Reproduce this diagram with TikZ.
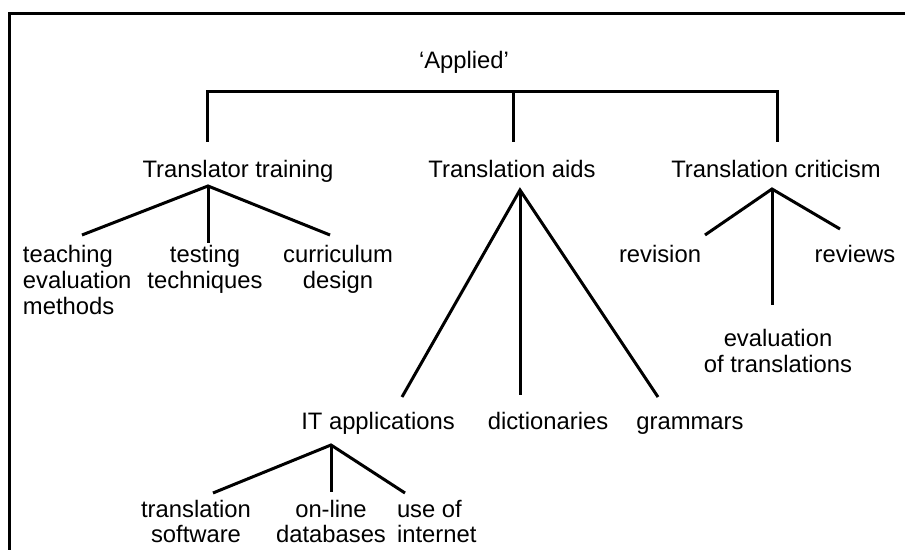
\documentclass[tikz,border=0pt]{standalone}
\usepackage{fontspec}
\setmainfont{Liberation Sans}
\begin{document}
\begin{tikzpicture}[x=0.5pt,y=-0.5pt,
  lbl/.style={inner sep=0pt,outer sep=0pt,anchor=base,align=center,font=\fontsize{11.9}{13}\selectfont},
  lbll/.style={lbl,anchor=base west,align=left},
  link/.style={line width=1.5pt,line cap=butt}]
\useasboundingbox (0,0) rectangle (905,550);
% frame
\draw[link] (9,550) -- (9,14) -- (905,14);
% labels (multi-line nodes are placed by the baseline of their last line)
\node[lbl] (applied) at (464,69) {`Applied'};
\node[lbl] (tt) at (238,178) {Translator training};
\node[lbl] (ta) at (512,178) {Translation aids};
\node[lbl] (tc) at (776,178) {Translation criticism};
\node[lbll] (teach) at (23,315) {teaching\\evaluation\\methods};
\node[lbl] (test) at (205,289) {testing\\techniques};
\node[lbl] (curr) at (338,289) {curriculum\\design};
\node[lbl] (rev) at (660,263) {revision};
\node[lbl] (revs) at (855,263) {reviews};
\node[lbl] (eval) at (778,373) {evaluation\\of translations};
\node[lbl] (it) at (378,430) {IT applications};
\node[lbl] (dict) at (548,430) {dictionaries};
\node[lbl] (gram) at (690,430) {grammars};
\node[lbl] (soft) at (196,543) {translation\\software};
\node[lbl] (onl) at (331,543) {on-line\\databases};
\node[lbll] (inet) at (397,543) {use of\\internet};
% coordinates for connector ends
\coordinate (barL) at (207,92);
\coordinate (barM) at (513,92);
\coordinate (barR) at (777,92);
\coordinate (ttTop) at (207,142);
\coordinate (taTop) at (513,142);
\coordinate (tcTop) at (777,142);
\coordinate (ttA) at (208,186);
\coordinate (teachE) at (82,235);
\coordinate (testE) at (208,243);
\coordinate (currE) at (330,235);
\coordinate (taA) at (520,190);
\coordinate (itE) at (402,397);
\coordinate (dictE) at (520,395);
\coordinate (gramE) at (658,397);
\coordinate (tcA) at (772,189);
\coordinate (revE) at (705,235);
\coordinate (evalE) at (772,305);
\coordinate (revsE) at (840,229);
\coordinate (itA) at (331,445);
\coordinate (softE) at (213,493);
\coordinate (onlE) at (331,492);
\coordinate (inetE) at (405,493);
% connectors
\draw[link] (ttTop) -- (barL) -- (barR) -- (tcTop);
\draw[link] (barM) -- (taTop);
\draw[link] (teachE) -- (ttA) -- (currE);
\draw[link] (ttA) -- (testE);
\draw[link] (itE) -- (taA) -- (gramE);
\draw[link] (taA) -- (dictE);
\draw[link] (revE) -- (tcA) -- (revsE);
\draw[link] (tcA) -- (evalE);
\draw[link] (softE) -- (itA) -- (inetE);
\draw[link] (itA) -- (onlE);
\end{tikzpicture}
\end{document}
